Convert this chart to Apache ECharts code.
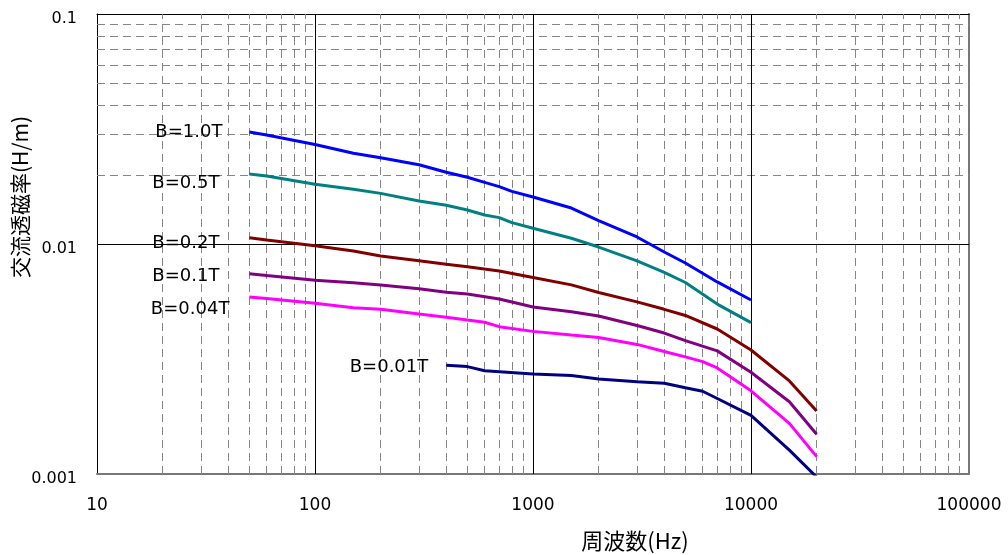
<!DOCTYPE html>
<html>
<head>
<meta charset="utf-8">
<script src="https://cdn.jsdelivr.net/npm/echarts@6/dist/echarts.min.js"></script>
<style>
html,body{margin:0;padding:0;background:#fff;}
#chart{width:1008px;height:555px;}
</style>
</head>
<body>
<div id="chart"></div>
<script>
// ---- data ----
const seriesNames = ['B=1.0T', 'B=0.5T', 'B=0.2T', 'B=0.1T', 'B=0.04T', 'B=0.01T'];

const freq10 = [50, 60, 100, 150, 200, 300, 400, 500, 600, 700, 800, 1000, 1500, 2000, 3000, 4000, 5000, 7000, 10000];
const mu10 = [0.0307, 0.0298, 0.0271, 0.0248, 0.0237, 0.0221, 0.0205, 0.0195, 0.01854, 0.01775, 0.01694, 0.0160, 0.01433, 0.01265, 0.01073, 0.00923, 0.00827, 0.00684, 0.00571];

const freq05 = [50, 60, 100, 150, 200, 300, 400, 500, 600, 700, 800, 1000, 1500, 2000, 3000, 4000, 5000, 7000, 10000];
const mu05 = [0.02015, 0.01975, 0.01818, 0.01729, 0.0166, 0.01538, 0.01473, 0.01406, 0.01337, 0.01302, 0.01238, 0.0117, 0.01059, 0.0097, 0.00844, 0.00753, 0.0068, 0.00548, 0.00455];

const freq02 = [50, 60, 100, 150, 200, 300, 400, 500, 700, 1000, 1500, 2000, 3000, 4000, 5000, 7000, 10000, 15000, 20000];
const mu02 = [0.01065, 0.0104, 0.00983, 0.00932, 0.00887, 0.00846, 0.00816, 0.00797, 0.00763, 0.00715, 0.00664, 0.00615, 0.0056, 0.0052, 0.00489, 0.00427, 0.00346, 0.00254, 0.00188];

const freq01 = [50, 60, 100, 150, 200, 300, 400, 500, 700, 1000, 1500, 2000, 3000, 4000, 5000, 7000, 10000, 15000, 20000];
const mu01 = [0.00743, 0.0073, 0.00695, 0.00679, 0.00663, 0.00639, 0.00617, 0.00606, 0.00577, 0.00532, 0.00508, 0.00486, 0.00442, 0.0041, 0.0038, 0.00343, 0.00277, 0.00206, 0.00149];

const freq004 = [50, 60, 100, 150, 200, 300, 400, 500, 600, 700, 1000, 1500, 2000, 3000, 4000, 5000, 6000, 7000, 10000, 15000, 20000];
const mu004 = [0.00588, 0.0058, 0.00552, 0.00528, 0.0052, 0.00496, 0.0048, 0.00467, 0.00457, 0.00437, 0.00417, 0.00402, 0.00392, 0.00366, 0.00341, 0.00323, 0.00308, 0.00289, 0.0023, 0.00166, 0.00119];

const freq001 = [400, 500, 600, 1000, 1500, 2000, 3000, 4000, 5000, 6000, 7000, 10000, 15000, 20000];
const mu001 = [0.00297, 0.00293, 0.00281, 0.00272, 0.00268, 0.00259, 0.00252, 0.00248, 0.00237, 0.00229, 0.00213, 0.0018, 0.00127, 0.00097];

const xTickValues = [10, 100, 1000, 10000, 100000];
const xTickLabels = ['10', '100', '1000', '10000', '100000'];
const yTickValues = [0.001, 0.01, 0.1];
const yTickLabels = ['0.001', '0.01', '0.1'];
const xMajorGrid = [100, 1000, 10000];
const yMajorGrid = [0.01];
const xMinorGrid = [20, 30, 40, 50, 60, 70, 80, 90, 200, 300, 400, 500, 600, 700, 800, 900, 2000, 3000, 4000, 5000, 6000, 7000, 8000, 9000, 20000, 30000, 40000, 50000, 60000, 70000, 80000, 90000];
const yMinorGrid = [0.002, 0.003, 0.004, 0.005, 0.006, 0.007, 0.008, 0.009, 0.02, 0.03, 0.04, 0.05, 0.06, 0.07, 0.08, 0.09];

const xTitle = '周波数(Hz)';
const yTitle = '交流透磁率(H/m)';

// ---- styles ----
const seriesColors = ['#0000FF', '#008080', '#800000', '#800080', '#FF00FF', '#000080'];
const labelPlace = [
  {distance: 27, offset: [0, 0]},
  {distance: 30, offset: [0, 9]},
  {distance: 30, offset: [0, 6]},
  {distance: 30, offset: [0, 3]},
  {distance: 20, offset: [0, 12]},
  {distance: 18, offset: [0, 2]}
];
const LATIN = '"DejaVu Sans", "Liberation Sans", sans-serif';
const CJK = '"Noto Sans CJK JP", "Noto Sans", sans-serif';

const freqs = [freq10, freq05, freq02, freq01, freq004, freq001];
const mus = [mu10, mu05, mu02, mu01, mu004, mu001];

function nearestLabel(v, vals, labels) {
  let best = 0, bd = Infinity;
  for (let i = 0; i < vals.length; i++) {
    const d = Math.abs(Math.log10(v) - Math.log10(vals[i]));
    if (d < bd) { bd = d; best = i; }
  }
  return bd < 0.01 ? labels[best] : '';
}

const lineSeries = seriesNames.map((name, si) => ({
  name: name,
  type: 'line',
  xAxisIndex: 0,
  yAxisIndex: 0,
  showSymbol: true,
  showAllSymbol: true,
  symbol: 'circle',
  symbolSize: 0,
  smooth: false,
  clip: true,
  z: 5,
  lineStyle: {color: seriesColors[si], width: 3},
  itemStyle: {color: seriesColors[si]},
  label: {show: false},
  data: freqs[si].map((f, i) => {
    if (i === 0) {
      return {
        value: [f, mus[si][i]],
        label: {
          show: true,
          position: 'left',
          distance: labelPlace[si].distance,
          offset: labelPlace[si].offset,
          formatter: name,
          color: '#000',
          fontFamily: LATIN,
          fontSize: 18
        }
      };
    }
    return [f, mus[si][i]];
  })
}));

const minorSeries = {
  type: 'line',
  xAxisIndex: 0,
  yAxisIndex: 0,
  data: [],
  silent: true,
  z: 1,
  markLine: {
    silent: true,
    symbol: ['none', 'none'],
    animation: false,
    label: {show: false},
    lineStyle: {color: '#858585', width: 1, type: [8, 5]},
    emphasis: {disabled: true},
    data: xMinorGrid.map(v => ({xAxis: v})).concat(yMinorGrid.map(v => ({yAxis: v})))
  }
};

const majorSeries = {
  type: 'line',
  xAxisIndex: 0,
  yAxisIndex: 0,
  data: [],
  silent: true,
  z: 2,
  markLine: {
    silent: true,
    symbol: ['none', 'none'],
    animation: false,
    label: {show: false},
    lineStyle: {color: '#000', width: 1, type: 'solid'},
    emphasis: {disabled: true},
    data: xMajorGrid.map(v => ({xAxis: v})).concat(yMajorGrid.map(v => ({yAxis: v})))
  }
};

const chart = echarts.init(document.getElementById('chart'), null, {renderer: 'canvas'});
chart.setOption({
  animation: false,
  backgroundColor: '#ffffff',
  grid: {left: 97, right: 39, top: 14, bottom: 81, containLabel: false},
  xAxis: [{
    type: 'log',
    logBase: 10,
    min: 10,
    max: 100000,
    position: 'bottom',
    axisLine: {show: true, lineStyle: {color: '#777', width: 2}},
    axisTick: {show: false},
    axisLabel: {
      margin: 23,
      color: '#000',
      fontFamily: LATIN,
      fontSize: 17,
      formatter: v => nearestLabel(v, xTickValues, xTickLabels)
    },
    splitLine: {show: false},
    minorTick: {show: false},
    minorSplitLine: {show: false}
  }, {
    type: 'log',
    logBase: 10,
    min: 10,
    max: 100000,
    position: 'top',
    axisLine: {show: true, lineStyle: {color: '#000', width: 1}},
    axisTick: {show: false},
    axisLabel: {show: false},
    splitLine: {show: false}
  }],
  yAxis: [{
    type: 'log',
    logBase: 10,
    min: 0.001,
    max: 0.1,
    position: 'left',
    axisLine: {show: true, lineStyle: {color: '#000', width: 1}},
    axisTick: {show: false},
    axisLabel: {
      margin: 20,
      color: '#000',
      fontFamily: LATIN,
      fontSize: 16,
      formatter: v => {
        const t = nearestLabel(v, yTickValues, yTickLabels);
        return t ? '{v|' + t + '}' : '';
      },
      rich: {
        v: {
          fontFamily: LATIN,
          fontSize: 16,
          color: '#000',
          padding: [10, 0, 0, 0]
        }
      }
    },
    splitLine: {show: false},
    minorTick: {show: false},
    minorSplitLine: {show: false}
  }, {
    type: 'log',
    logBase: 10,
    min: 0.001,
    max: 0.1,
    position: 'right',
    axisLine: {show: true, lineStyle: {color: '#777', width: 2}},
    axisTick: {show: false},
    axisLabel: {show: false},
    splitLine: {show: false}
  }],
  graphic: [{
    type: 'text',
    x: 635,
    y: 541,
    style: {
      text: xTitle,
      fill: '#000',
      font: '22px ' + CJK,
      textAlign: 'center',
      textVerticalAlign: 'middle'
    }
  }, {
    type: 'text',
    x: 20,
    y: 197,
    rotation: Math.PI / 2,
    style: {
      text: yTitle,
      fill: '#000',
      font: '21px ' + CJK,
      textAlign: 'center',
      textVerticalAlign: 'middle'
    }
  }],
  series: [minorSeries, majorSeries].concat(lineSeries)
});
</script>
</body>
</html>
